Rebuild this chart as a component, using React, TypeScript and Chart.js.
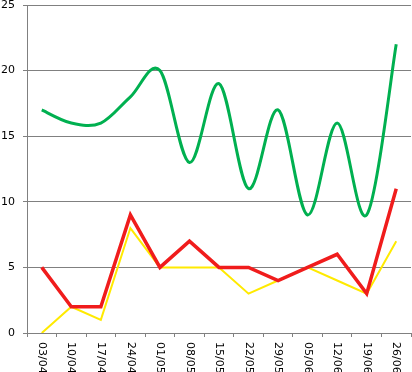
import React, { useEffect, useRef } from "react";
import { Chart, registerables } from "chart.js";

Chart.register(...registerables);

const categories = ["03/04", "10/04", "17/04", "24/04", "01/05", "08/05", "15/05", "22/05", "29/05", "05/06", "12/06", "19/06", "26/06"];
const greenValues = [17, 16, 16, 18, 20, 13, 19, 11, 17, 9, 16, 9, 22];
const redValues = [5, 2, 2, 9, 5, 7, 5, 5, 4, 5, 6, 3, 11];
const yellowValues = [0, 2, 1, 8, 5, 5, 5, 3, 4, 5, 4, 3, 7];
const yTicks = [0, 5, 10, 15, 20, 25];

const FONT = "'DejaVu Sans', Verdana, sans-serif";

const xLabelPlugin = {
  id: "xLabelsRotated",
  afterDraw(chart: any) {
    const ctx = chart.ctx;
    const xs = chart.scales.x;
    const area = chart.chartArea;
    ctx.save();
    ctx.font = "11px " + FONT;
    ctx.fillStyle = "#000000";
    ctx.textAlign = "left";
    ctx.textBaseline = "middle";
    categories.forEach((label, i) => {
      const x = xs.getPixelForTick(i);
      ctx.save();
      ctx.translate(x, area.bottom + 9);
      ctx.rotate(Math.PI / 2);
      ctx.fillText(label, 0, 0);
      ctx.restore();
    });
    ctx.restore();
  },
};

// Excel-style smoothing (Catmull-Rom) for datasets with tension set
const smoothPlugin = {
  id: "excelSmooth",
  beforeDatasetDraw(chart: any, args: any) {
    const meta = args.meta;
    const ds = chart.data.datasets[args.index];
    if (!ds.excelSmooth) return;
    const line = meta.dataset;
    line.updateControlPoints(chart.chartArea, "x");
    const pts = meta.data;
    const n = pts.length;
    for (let i = 0; i < n; i++) {
      const p = pts[i];
      const prev = pts[Math.max(0, i - 1)];
      const next = pts[Math.min(n - 1, i + 1)];
      const mx = (next.x - prev.x) / 6;
      const my = (next.y - prev.y) / 6;
      p.cp1x = p.x - mx;
      p.cp1y = p.y - my;
      p.cp2x = p.x + mx;
      p.cp2y = p.y + my;
    }
  },
};

export default function App() {
  const ref = useRef<HTMLCanvasElement | null>(null);

  useEffect(() => {
    document.body.style.margin = "0";
    if (!ref.current) return;
    const chart = new Chart(ref.current, {
      type: "line",
      data: {
        labels: categories,
        datasets: [
          {
            data: greenValues,
            borderColor: "#00B050",
            borderWidth: 3,
            tension: 0.4,
            excelSmooth: true,
            pointRadius: 0,
            fill: false,
          } as any,
          {
            data: redValues,
            borderColor: "#F01C1C",
            borderWidth: 3.5,
            tension: 0,
            pointRadius: 0,
            fill: false,
          },
          {
            data: yellowValues,
            borderColor: "#FFEA00",
            borderWidth: 2,
            tension: 0,
            pointRadius: 0,
            fill: false,
          },
        ],
      },
      options: {
        responsive: false,
        animation: false,
        elements: { line: { capBezierPoints: false } },
        layout: { padding: { top: 5, right: 1, left: 0, bottom: 0 } },
        plugins: { legend: { display: false }, tooltip: { enabled: false } },
        scales: {
          x: {
            offset: true,
            grid: {
              offset: true,
              drawOnChartArea: false,
              drawTicks: true,
              tickLength: 4,
              color: "#808080",
            },
            border: { display: true, color: "#808080" },
            ticks: { display: false },
            afterFit: (s: any) => {
              s.height = 39;
              s.paddingLeft = 0;
              s.paddingRight = 0;
            },
          },
          y: {
            min: 0,
            max: 25,
            afterBuildTicks: (s: any) => {
              s.ticks = yTicks.map((v) => ({ value: v }));
            },
            grid: { color: "#808080", tickLength: 4, drawTicks: true },
            border: { display: true, color: "#808080" },
            ticks: {
              color: "#000000",
              font: { family: FONT, size: 11 },
              padding: 8,
            },
            afterFit: (s: any) => {
              s.width = 27;
              s.paddingTop = 0;
              s.paddingBottom = 0;
            },
          },
        },
      },
      plugins: [xLabelPlugin, smoothPlugin],
    });
    return () => chart.destroy();
  }, []);

  return (
    <div style={{ position: "fixed", left: 0, top: 0, width: 412, height: 372 }}>
      <canvas ref={ref} width={412} height={372} />
    </div>
  );
}
